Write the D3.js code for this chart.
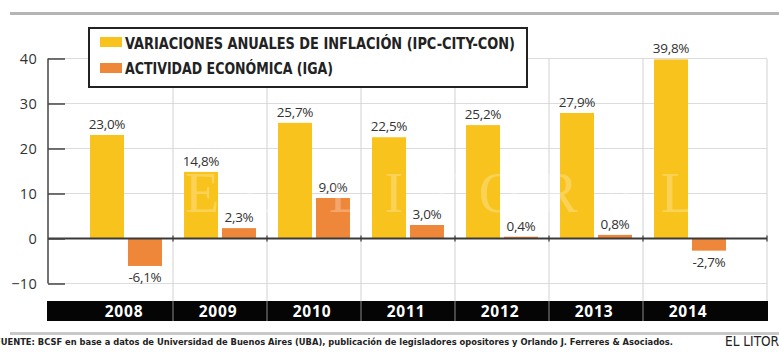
<!DOCTYPE html>
<html><head><meta charset="utf-8">
<script src="https://cdn.jsdelivr.net/npm/d3@7"></script>
<style>
html,body{margin:0;padding:0;background:#fff;}
svg{display:block;}
</style></head>
<body>
<svg id="c" width="779" height="352"></svg>
<script>
const years = ["2008","2009","2010","2011","2012","2013","2014"];
const inflacion = [23.0, 14.8, 25.7, 22.5, 25.2, 27.9, 39.8];
const actividad = [-6.1, 2.3, 9.0, 3.0, 0.4, 0.8, -2.7];
const seriesNames = ["VARIACIONES ANUALES DE INFLACIÓN (IPC-CITY-CON)", "ACTIVIDAD ECONÓMICA (IGA)"];
const seriesColors = ["#F9C31E", "#EF873A"];
const yTicks = [-10, 0, 10, 20, 30, 40];
const fuente = "FUENTE: BCSF en base a datos de Universidad de Buenos Aires (UBA), publicación de legisladores opositores y Orlando J. Ferreres & Asociados.";
const firma = "EL LITORAL";

const svg = d3.select("#c");
const font = "'Liberation Sans Narrow','DejaVu Sans Condensed','Roboto','Liberation Sans',sans-serif";
const fontW = "'Open Sans','Roboto','Liberation Sans',sans-serif";

const left = 48, right = 767;
const y = d3.scaleLinear().domain([-10, 40]).range([283.5, 58.5]);
const x = d3.scaleBand().domain(years).range([79, 737]).padding(0);
const xs = d3.scaleBand().domain([0,1]).range([0, x.bandwidth()]).paddingInner(0.105).paddingOuter(0.29);

// top and bottom gray rules
svg.append("rect").attr("x",10).attr("y",12).attr("width",769).attr("height",3).attr("fill","#b5b5b5");
svg.append("rect").attr("x",10).attr("y",332).attr("width",769).attr("height",3).attr("fill","#c8c8c8");

// horizontal gridlines
svg.append("g").selectAll("line").data(yTicks.filter(d=>d!==0)).join("line")
  .attr("x1", left).attr("x2", right).attr("y1", d=>y(d)).attr("y2", d=>y(d))
  .attr("stroke","#dcdcdc").attr("stroke-width",1);

// vertical separators
const seps = years.slice(1).map(d=>x(d));
svg.append("g").selectAll("line").data(seps.concat([right])).join("line")
  .attr("x1", d=>d).attr("x2", d=>d).attr("y1", y(40)).attr("y2", 301)
  .attr("stroke","#d2d2d2").attr("stroke-width",1);

// bars
const g = svg.append("g");
years.forEach((yr,i)=>{
  [inflacion[i], actividad[i]].forEach((v,s)=>{
    const bx = x(yr) + xs(s);
    g.append("rect").attr("x", bx).attr("width", xs.bandwidth())
      .attr("y", y(Math.max(0,v))).attr("height", Math.abs(y(v)-y(0)))
      .attr("fill", seriesColors[s]);
  });
});

// faint watermark over bars
svg.append("text").attr("x", 185).attr("y", 212)
  .attr("font-family","'Liberation Serif','DejaVu Serif',serif").attr("font-size",56)
  .attr("textLength",510).attr("lengthAdjust","spacing")
  .attr("fill","#ffffff").attr("fill-opacity",0.25).text(firma);

// value labels
years.forEach((yr,i)=>{
  [inflacion[i], actividad[i]].forEach((v,s)=>{
    const bx = x(yr) + xs(s);
    const lbl = (v<0?"-":"") + Math.abs(v).toFixed(1).replace(".",",") + "%";
    g.append("text").attr("x", bx + xs.bandwidth()/2)
      .attr("y", v>=0 ? y(v)-6 : y(v)+16)
      .attr("text-anchor","middle").attr("font-family",fontW).attr("font-size",13.5)
      .attr("fill","#333").attr("letter-spacing",-0.3).text(lbl);
  });
});

// zero line
svg.append("line").attr("x1", left).attr("x2", right).attr("y1", y(0)).attr("y2", y(0))
  .attr("stroke","#3a3a3a").attr("stroke-width",2);
svg.append("g").selectAll("line").data(seps.concat([right])).join("line")
  .attr("x1", d=>d).attr("x2", d=>d).attr("y1", y(0)-3).attr("y2", y(0)+3)
  .attr("stroke","#3a3a3a").attr("stroke-width",1.2);

// y axis
const yAxis = d3.axisLeft(y).tickValues(yTicks).tickSize(-17).tickPadding(28).tickFormat(d3.format("d"));
const ax = svg.append("g").attr("transform",`translate(${left},0)`).call(yAxis);
ax.select(".domain").attr("stroke","#444").attr("stroke-width",1.5).attr("d", `M0,${y(40)}V${y(-10)}`);
ax.selectAll(".tick line").attr("stroke","#444").attr("stroke-width",1.5);
ax.selectAll(".tick text").attr("x",-11).attr("font-family",fontW).attr("font-size",14.5)
  .attr("fill","#333").attr("letter-spacing",0.3).attr("dy","0.36em");

// year band
svg.append("rect").attr("x",47).attr("y",301).attr("width",721).attr("height",20).attr("fill","#050505");
svg.append("g").selectAll("line").data(seps).join("line")
  .attr("x1", d=>d).attr("x2", d=>d).attr("y1", 301).attr("y2", 321)
  .attr("stroke","#8a8a8a").attr("stroke-width",1);
svg.append("g").selectAll("text").data(years).join("text")
  .attr("x", d=>x(d)+x.bandwidth()/2 - 2).attr("y", 317)
  .attr("text-anchor","middle").attr("font-family",fontW).attr("font-weight","bold")
  .attr("font-size",15.5).attr("letter-spacing",0.8).attr("fill","#fff").text(d=>d);

// legend
const lg = svg.append("g");
lg.append("rect").attr("x",89).attr("y",28).attr("width",438).attr("height",59)
  .attr("fill","#fff").attr("stroke","#222").attr("stroke-width",2);
seriesNames.forEach((n,i)=>{
  lg.append("rect").attr("x",100).attr("y", 37 + i*26).attr("width",22).attr("height",10).attr("fill",seriesColors[i]);
  lg.append("text").attr("x",125).attr("y", 49 + i*25).attr("font-family",font).attr("font-size",15)
    .attr("font-weight","bold").attr("fill","#222")
    .attr("textLength", i===0 ? 390 : 208).attr("lengthAdjust","spacingAndGlyphs").text(n);
});

// footer
svg.append("text").attr("x",-5).attr("y",345).attr("font-family",font).attr("font-size",9.5)
  .attr("font-weight","bold").attr("fill","#222").attr("textLength",678).attr("lengthAdjust","spacingAndGlyphs").text(fuente);
svg.append("text").attr("x",725).attr("y",346).attr("font-family",font).attr("font-size",13.5)
  .attr("fill","#222").text(firma);
</script>
</body></html>
